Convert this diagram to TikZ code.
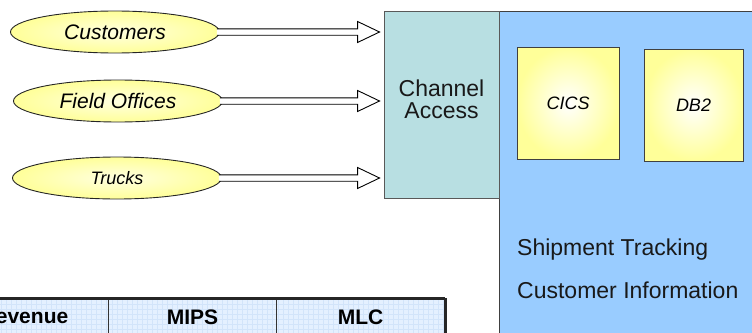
\documentclass[tikz,border=0pt]{standalone}
\usepackage{fontspec}
\setmainfont{Liberation Sans}
\usetikzlibrary{shapes.geometric,calc}

\definecolor{hostblue}{HTML}{99CCFF}
\definecolor{chanteal}{HTML}{B8DFE2}
\definecolor{softyellow}{HTML}{FFFF99}
\definecolor{cellblue}{HTML}{E4F0FF}
\definecolor{gridblue}{HTML}{D2E4FA}

\tikzset{
  source/.style={ellipse, draw=black!85, line width=0.9pt, inner color=softyellow!30,
    outer color=softyellow, minimum width=209pt, minimum height=42pt,
    font=\fontsize{21}{22}\selectfont\itshape},
  subsys/.style={rectangle, draw=black!75, line width=0.9pt, inner color=white,
    outer color=softyellow, font=\fontsize{18}{20}\selectfont\itshape},
  fatarrow/.style={draw=black, line width=0.9pt, fill=white},
  headcell/.style={rectangle, draw=black!80, line width=1.6pt, fill=cellblue,
    minimum width=168pt, minimum height=36pt, font=\fontsize{21}{22}\selectfont\bfseries,
    path picture={\draw[gridblue, line width=0.3pt]
      (path picture bounding box.south west) grid[step=5pt] (path picture bounding box.north east);}},
  biglabel/.style={font=\fontsize{23}{22}\selectfont, text=black!90}
}

% double-outline arrow from a source ellipse to the channel box
\newcommand{\fatarrow}[2]{%
  \path[fatarrow] ($(#1.east)+(-3,-3.2)$) -- ($(#1.east -| #2.west)+(-26,-3.2)$)
    -- ($(#1.east -| #2.west)+(-26,-10.5)$) -- ($(#1.east -| #2.west)+(-4,0)$)
    -- ($(#1.east -| #2.west)+(-26,10.5)$) -- ($(#1.east -| #2.west)+(-26,3.2)$)
    -- ($(#1.east)+(-3,3.2)$);}

\begin{document}
\begin{tikzpicture}[x=1pt,y=-1pt]
  \useasboundingbox (0,0) rectangle (752,332);
  \clip (0,0) rectangle (752,332);

  % host system and channel
  \draw[draw=black!75, line width=0.9pt, fill=hostblue] (499,11) rectangle (770,350);
  \node[rectangle, draw=black!65, line width=0.9pt, fill=chanteal,
    minimum width=115pt, minimum height=187pt] (chan) at (441.5,104.5) {};
  \node[biglabel, align=center] (chantext) at ($(chan.center)+(0,-5)$) {Channel\\Access};

  \node[subsys, minimum width=102pt, minimum height=112pt] (cics) at (568,103) {CICS};
  \node[subsys, minimum width=99pt, minimum height=112pt] (db2) at (693.5,105) {DB2};

  \node[biglabel, anchor=base west, inner sep=0pt] (ship) at (517,255) {Shipment Tracking};
  \node[biglabel, anchor=base west, inner sep=0pt] (custinfo) at (517,298) {Customer Information};

  % sources
  \node[source] (cust) at (115,32) {Customers};
  \node[source] (field) at (118,101) {Field Offices};
  \node[source, font=\fontsize{18}{19}\selectfont\itshape] (truck) at (117,178) {Trucks};

  \fatarrow{cust}{chan}
  \fatarrow{field}{chan}
  \fatarrow{truck}{chan}

  % table header
  \node[headcell, anchor=north] (rev) at (24.5,298) {Revenue};
  \node[headcell, anchor=north] (mips) at (192.5,298) {MIPS};
  \node[headcell, anchor=north] (mlc) at (360.5,298) {MLC};
  \draw[black!85, line width=3pt] (rev.north west) -- (mlc.north east);
  \draw[black!85, line width=2.6pt] (mlc.north east) -- (mlc.south east);
\end{tikzpicture}
\end{document}
